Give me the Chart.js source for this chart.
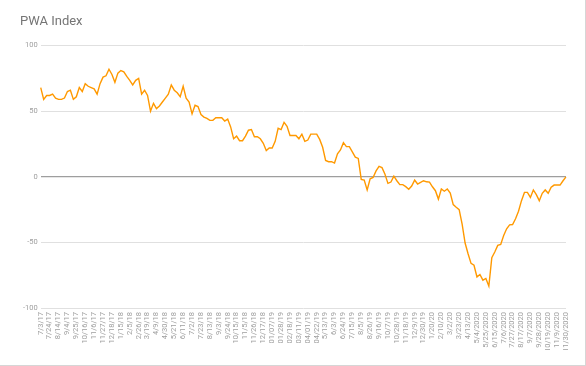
<!DOCTYPE html>
<html>
<head>
<meta charset="utf-8">
<script src="https://cdn.jsdelivr.net/npm/chart.js@4"></script>
<style>
  html, body { margin: 0; padding: 0; background: #fff; }
  #wrap { width: 585px; height: 365px; border-right: 1px solid #d6d6d6; border-bottom: 1px solid #d6d6d6; }
</style>
</head>
<body>
<div id="wrap"><canvas id="myChart" width="585" height="365"></canvas></div>
<script>
// tick labels shown on the x axis (one every 3 weeks)
const tickLabels = [
  '7/3/17', '7/24/17', '8/14/17', '9/4/17', '9/25/17', '10/16/17', '11/6/17', '11/27/17',
  '12/18/17', '1/15/18', '2/5/18', '2/26/18', '3/19/18', '4/9/18', '4/30/18', '5/21/18',
  '6/11/18', '7/2/18', '7/23/18', '8/13/18', '9/3/18', '9/24/18', '10/15/18', '11/5/18',
  '11/26/18', '12/17/18', '01/07/19', '01/28/19', '02/18/19', '03/11/19', '04/01/19', '04/22/19',
  '5/13/19', '6/3/19', '6/24/19', '7/15/19', '8/5/19', '8/26/19', '9/16/19', '10/7/19',
  '10/28/19', '11/18/19', '12/9/19', '12/30/19', '1/20/20', '2/10/20', '3/2/20', '3/23/20',
  '4/13/20', '5/4/2020', '5/25/2020', '6/15/2020', '7/6/2020', '7/27/2020', '8/17/2020', '9/7/2020',
  '9/28/2020', '10/19/2020', '11/9/2020', '11/30/2020'
];

// weekly index values
const pwaIndex = [
  68, 59, 62, 62, 63, 60, 59, 59, 60, 65,
  66, 59, 61, 68, 65, 71, 69, 68, 67, 63,
  71, 76, 77, 82, 78, 72, 79, 81, 80, 76.5,
  73.5, 70, 73.5, 75, 63, 66, 62, 50, 56, 52,
  54, 57, 60, 63, 70, 66, 64, 61, 69, 60,
  57, 48, 54.5, 53.5, 47.5, 45.5, 44.5, 43, 43, 45,
  45, 45, 42.5, 44, 38, 29, 31, 27.5, 27.5, 31,
  35.5, 36, 30.5, 30.5, 29, 25.5, 20, 22, 22, 27,
  37, 36, 41.5, 38.5, 31.5, 31.5, 31.5, 29, 32.5, 27,
  28, 32.5, 32.5, 32.5, 28.5, 22.5, 12.5, 11.5, 11.5, 10.5,
  17.5, 20.5, 26, 23, 23, 19, 15, 14, -2, -2.5,
  -10, -1.5, -0.5, 4.5, 8, 7, 2, -5, -4, 0.5,
  -3, -6, -6, -7.5, -9.5, -7, -2.5, -5.5, -4.3, -3,
  -3.8, -4, -7.6, -10.6, -17, -9.3, -11, -9.3, -12.4, -21.2,
  -23.2, -25, -36, -50.5, -58.6, -66, -67.4, -76.3, -74.5, -78.8,
  -77.5, -83.3, -61.6, -57.3, -52.3, -51.5, -44.7, -39.6, -36.6, -36.4,
  -32, -26.3, -18.2, -11.9, -11.9, -15.7, -10, -13.6, -18.2, -12.6,
  -10, -12.6, -8, -6.3, -6.3, -6.3, -3, 0
];

const yTicks = [-100, -50, 0, 50, 100];

// every third week gets a label
const weeks = pwaIndex.map((v, i) => (i % 3 === 0 ? tickLabels[i / 3] : ''));

Chart.defaults.font.family = 'Roboto, sans-serif';

var ctx = document.getElementById('myChart').getContext('2d');
var chart = new Chart(ctx, {
  type: 'line',
  data: {
    labels: weeks,
    datasets: [{
      label: 'PWA Index',
      data: pwaIndex,
      borderColor: 'rgb(255, 153, 0)',
      borderWidth: 1.4,
      pointRadius: 0,
      tension: 0,
      fill: false
    }]
  },
  options: {
    responsive: false,
    animation: false,
    layout: { padding: { left: 20, right: 19, top: 14, bottom: 15 } },
    plugins: {
      legend: { display: false },
      tooltip: { enabled: false },
      title: {
        display: true,
        text: 'PWA Index',
        align: 'start',
        color: '#757575',
        font: { size: 13, weight: 'normal' },
        padding: { top: 0, bottom: 16 }
      }
    },
    scales: {
      x: {
        grid: { display: false, drawTicks: false },
        border: { display: false },
        afterFit: axis => { axis.height = 42; },
        ticks: {
          autoSkip: false,
          minRotation: 90,
          maxRotation: 90,
          color: '#9e9e9e',
          font: { size: 7.5 },
          padding: 4
        }
      },
      y: {
        min: -100,
        max: 100,
        afterBuildTicks: axis => { axis.ticks = yTicks.map(v => ({ value: v })); },
        border: { display: false },
        grid: {
          drawTicks: false,
          color: c => (c.tick && c.tick.value === 0 ? '#9e9e9e' : '#e0e0e0'),
          lineWidth: c => (c.tick && c.tick.value === 0 ? 1.2 : 1)
        },
        ticks: { color: '#9e9e9e', font: { size: 7.5 }, padding: 3 }
      }
    }
  }
});
</script>
</body>
</html>
